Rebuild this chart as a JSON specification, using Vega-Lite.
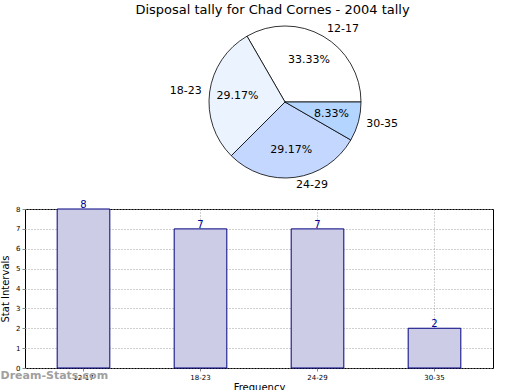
{
  "$schema": "https://vega.github.io/schema/vega-lite/v6.json",
  "padding": {"top": 4, "left": 0, "right": 0, "bottom": 0},
  "background": "white",
  "config": {
    "font": "DejaVu Sans",
    "view": {"stroke": null},
    "title": {"font": "DejaVu Sans", "fontWeight": "normal", "fontSize": 13, "color": "black"}
  },
  "title": {"text": "Disposal tally for Chad Cornes - 2004 tally", "anchor": "middle", "offset": 2},
  "data": {
    "values": [
      {"age": "12-17", "count": 8, "pct": 0.3333, "ord": 1},
      {"age": "18-23", "count": 7, "pct": 0.2917, "ord": 2},
      {"age": "24-29", "count": 7, "pct": 0.2917, "ord": 3},
      {"age": "30-35", "count": 2, "pct": 0.0833, "ord": 4}
    ]
  },
  "vconcat": [
    {
      "width": 520,
      "height": 166,
      "encoding": {
        "theta": {"field": "count", "type": "quantitative", "stack": true, "scale": {"range": [1.5708, -4.7124]}},
        "order": {"field": "ord", "type": "quantitative"}
      },
      "layer": [
        {
          "mark": {"type": "arc", "outerRadius": 76, "stroke": "black", "strokeWidth": 0.8},
          "encoding": {
            "color": {
              "field": "age",
              "type": "nominal",
              "legend": null,
              "scale": {"domain": ["12-17", "18-23", "24-29", "30-35"], "range": ["#FFFFFF", "#EBF3FF", "#C4D8FF", "#B4D5FF"]}
            }
          }
        },
        {
          "mark": {"type": "text", "radius": 48, "fontSize": 11, "color": "black"},
          "encoding": {"text": {"field": "pct", "type": "quantitative", "format": ".2%"}}
        },
        {
          "mark": {"type": "text", "radius": 84, "fontSize": 11, "color": "black", "align": "left", "baseline": "middle"},
          "encoding": {
            "text": {"field": "age", "type": "nominal"},
            "opacity": {"condition": {"test": "datum.age === '18-23'", "value": 0}, "value": 1}
          }
        },
        {
          "mark": {"type": "text", "radius": 84, "fontSize": 11, "color": "black", "align": "right", "baseline": "middle"},
          "encoding": {
            "text": {"field": "age", "type": "nominal"},
            "opacity": {"condition": {"test": "datum.age === '18-23'", "value": 1}, "value": 0}
          }
        }
      ]
    },
    {
      "width": 468,
      "height": 159,
      "view": {"stroke": "black", "strokeWidth": 1},
      "title": {"text": "Dream-Stats.com", "orient": "bottom", "anchor": "start", "frame": "bounds", "offset": -22, "color": "#A0A0A0", "fontSize": 11, "fontWeight": "bold"},
      "encoding": {
        "x": {
          "field": "age",
          "type": "nominal",
          "sort": ["12-17", "18-23", "24-29", "30-35"],
          "scale": {"paddingInner": 0.55, "paddingOuter": 0.275},
          "axis": {
            "title": "Frequency",
            "titleFontSize": 10,
            "titleFontWeight": "normal",
            "titlePadding": 2,
            "labelAngle": 0,
            "labelFontSize": 7,
            "labelPadding": 2,
            "tickSize": 3,
            "grid": true,
            "gridColor": "#a0a0a0",
            "gridDash": [1, 2],
            "domain": false
          }
        },
        "y": {
          "field": "count",
          "type": "quantitative",
          "scale": {"domain": [0, 8]},
          "axis": {
            "title": "Stat Intervals",
            "titleFontSize": 10,
            "titleFontWeight": "normal",
            "titlePadding": 5,
            "values": [0, 1, 2, 3, 4, 5, 6, 7, 8],
            "labelFontSize": 7,
            "labelPadding": 2,
            "tickSize": 3,
            "grid": true,
            "gridColor": "#a0a0a0",
            "gridDash": [1, 2],
            "domain": false
          }
        }
      },
      "layer": [
        {
          "mark": {"type": "bar", "fill": "#CCCCE6", "stroke": "#000080", "strokeWidth": 1}
        },
        {
          "mark": {"type": "text", "baseline": "bottom", "dy": 1, "fontSize": 10, "color": "#000099"},
          "encoding": {"text": {"field": "count", "type": "quantitative"}}
        }
      ]
    }
  ],
  "spacing": 8
}
